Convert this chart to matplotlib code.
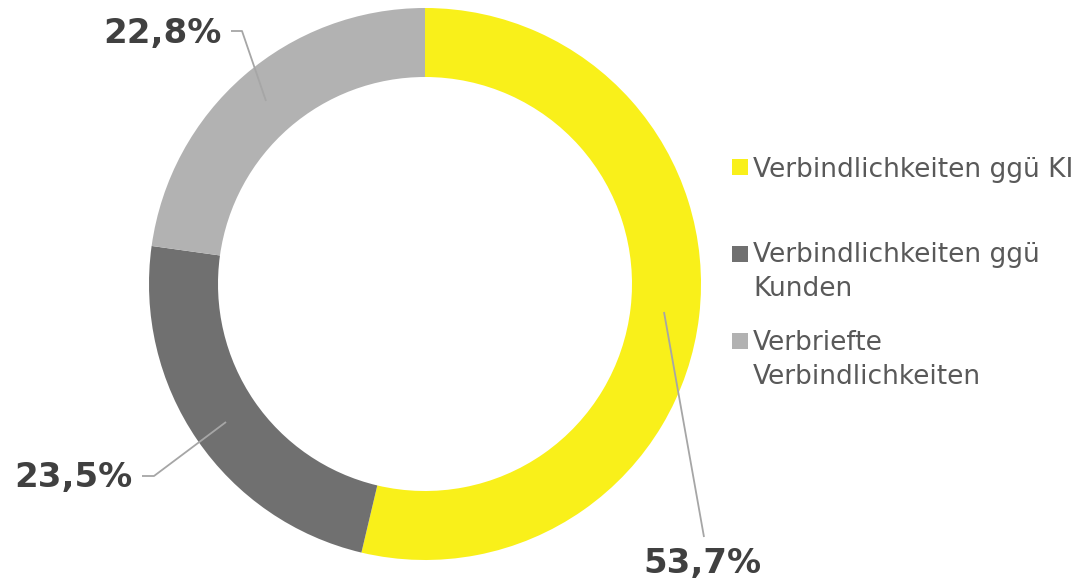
import matplotlib.pyplot as plt

# =========================
# DATA
# =========================
categories = ["Verbindlichkeiten ggü KI", "Verbindlichkeiten ggü\nKunden", "Verbriefte\nVerbindlichkeiten"]
shares = [53.7, 23.5, 22.8]
value_labels = ["53,7%", "23,5%", "22,8%"]
colors = ["#F9F01A", "#707070", "#B2B2B2"]

W, H = 1087, 582

fig = plt.figure(figsize=(W / 100, H / 100), dpi=100)
ax = fig.add_axes([0, 0, 1, 1])

# =========================
# DONUT
# =========================
cx, cy, r = 425, H - 284, 276
ax.pie(shares, colors=colors, startangle=90, counterclock=False,
       center=(cx, cy), radius=r, frame=True,
       wedgeprops=dict(width=69, linewidth=0))
ax.set_xlim(0, W)
ax.set_ylim(0, H)
ax.set_aspect("equal")
ax.axis("off")

# =========================
# LABELS + LEADER LINES (pixel positions from top)
# =========================
label_pos = [(702, 563), (73, 477), (162, 33)]
leaders = [
    [(664, 312), (704, 537)],
    [(142, 476), (154, 476), (226, 422)],
    [(231, 31), (242, 31), (266, 101)],
]
for txt, (tx, ty), pts in zip(value_labels, label_pos, leaders):
    xs = [p[0] for p in pts]
    ys = [H - p[1] for p in pts]
    ax.plot(xs, ys, color="#A6A6A6", lw=1.3, solid_capstyle="butt")
    ax.text(tx, H - ty, txt, ha="center", va="center", fontsize=24.5,
            fontweight="bold", color="#404040")

# =========================
# LEGEND
# =========================
marker_y = [167, 254, 341]
baseline_y = [177, 262, 350]
for lab, col, my, by in zip(categories, colors, marker_y, baseline_y):
    ax.scatter([740], [H - my], marker="s", s=117, color=col, linewidths=0)
    # first line on the baseline, rest below
    lines = lab.split("\n")
    for k, line in enumerate(lines):
        ax.text(753, H - by - 34 * k, line, ha="left", va="baseline",
                fontsize=19, color="#595959")

fig.savefig("out.png", dpi=100)
